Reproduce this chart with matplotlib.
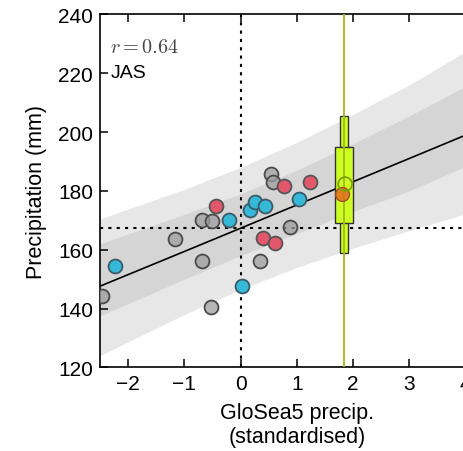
import matplotlib
matplotlib.use("Agg")
import matplotlib.pyplot as plt
import numpy as np

plt.rcParams["font.family"] = ["Liberation Sans", "DejaVu Sans"]
plt.rcParams["mathtext.fontset"] = "cm"

# scatter points (standardised GloSea5 precip, observed precip in mm)
gray_x = [-2.47, -1.17, -0.68, -0.51, -0.68, -0.52, 0.55, 0.58, 0.88, 0.34]
gray_y = [144.4, 163.6, 170.2, 169.9, 156.1, 140.4, 185.7, 182.9, 167.6, 156.3]
red_x = [-0.44, 0.40, 0.61, 0.77, 1.23]
red_y = [174.8, 164.0, 162.2, 181.8, 182.9]
blue_x = [-2.24, -0.20, 0.17, 0.25, 0.44, 1.04, 0.02]
blue_y = [154.4, 170.1, 173.6, 176.3, 175.0, 177.2, 147.8]

# regression line and uncertainty bands
band_x = [-2.5, -1, 0, 1, 2, 3, 4.5]
fit_y = [147.6, 159.4, 167.3, 175.2, 183.1, 191.0, 202.9]
dark_hi = [162.0, 172.0, 179.0, 187.0, 196.0, 205.5, 220.5]
dark_lo = [137.5, 150.0, 158.0, 165.5, 173.0, 180.0, 192.5]
light_hi = [170.5, 180.5, 188.0, 196.5, 206.0, 216.0, 233.0]
light_lo = [124.0, 138.0, 146.5, 154.0, 160.5, 166.5, 175.0]

obs_mean = 167.3
forecast_x = 1.84
box_q = [169.0, 195.0]
box_whisk = [158.8, 205.4]
pred_point = (1.86, 182.3)
obs_point = (1.80, 179.0)

fig = plt.figure(figsize=(4.63, 4.52), dpi=100)
ax = fig.add_axes([0.216, 0.185, 0.85, 0.781])

ax.fill_between(band_x, light_lo, light_hi, color="#e7e7e7", lw=0, zorder=0)
ax.fill_between(band_x, dark_lo, dark_hi, color="#d5d5d5", lw=0, zorder=0.5)

ax.axvline(0, color="black", ls=(0, (1.5, 2.5)), lw=1.5, zorder=1)
ax.axhline(obs_mean, color="black", ls=(0, (1.5, 2.5)), lw=1.5, zorder=1)
ax.plot(band_x, fit_y, color="black", lw=1.2, zorder=2)

kw = dict(s=100, linewidths=1.3, zorder=3)
ax.scatter(gray_x, gray_y, facecolor=(0.62, 0.62, 0.62, 0.75), edgecolor="#4a4a4a", **kw)
ax.scatter(red_x, red_y, facecolor="#e2586a", edgecolor="#555555", **kw)
ax.scatter(blue_x, blue_y, facecolor="#36b8d8", edgecolor="#3a5a66", **kw)

# forecast distribution
ax.bar(forecast_x, box_whisk[1] - box_whisk[0], bottom=box_whisk[0], width=0.125,
       color="#ccff22", edgecolor="#333333", lw=1.0, zorder=4)
ax.bar(forecast_x, box_q[1] - box_q[0], bottom=box_q[0], width=0.33,
       color="#ccff22", edgecolor="#333333", lw=1.0, zorder=4)
ax.axvline(forecast_x, color="#a8b818", lw=1.3, zorder=5)
ax.scatter(*obs_point, s=100, facecolor=(0.88, 0.42, 0.12, 0.85), edgecolor="#a05020",
           linewidths=1.0, zorder=6)
ax.scatter(*pred_point, s=100, facecolor="none", edgecolor="#7fa300", linewidths=1.3, zorder=7)

ax.set_xlim(-2.5, 4.5)
ax.set_ylim(120, 240)
ax.set_xticks([-2, -1, 0, 1, 2, 3, 4])
ax.set_yticks([120, 140, 160, 180, 200, 220, 240])
ax.tick_params(direction="in", top=True, right=True, length=6, width=1.1, labelsize=15, pad=5)
for s in ax.spines.values():
    s.set_linewidth(1.2)

ax.text(0.025, 0.893, "$r=0.64$", transform=ax.transAxes, fontsize=14.5, color="#444444")
ax.text(0.027, 0.822, "JAS", transform=ax.transAxes, fontsize=14)
ax.set_ylabel("Precipitation (mm)", fontsize=15.5, labelpad=8)
ax.set_xlabel("GloSea5 precip.\n(standardised)", fontsize=15.5, labelpad=6)

fig.savefig("out.png", dpi=100)
